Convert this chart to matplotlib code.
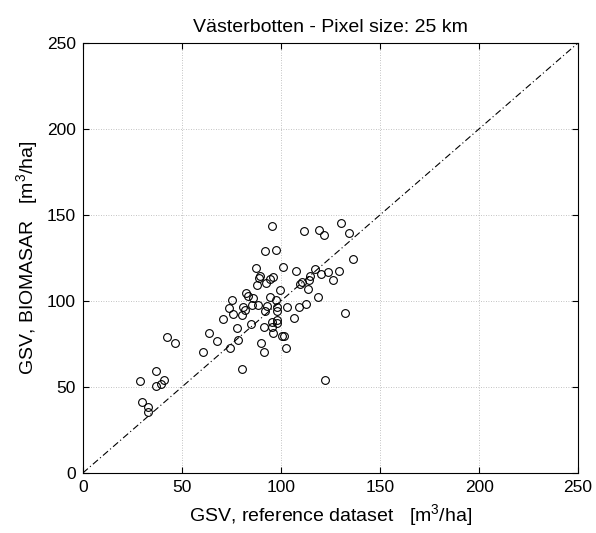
import matplotlib
matplotlib.use('Agg')
import matplotlib.pyplot as plt
import numpy as np

plt.rcParams['font.family'] = ['Liberation Sans', 'DejaVu Sans']
plt.rcParams['mathtext.fontset'] = 'custom'
plt.rcParams['mathtext.rm'] = 'Liberation Sans'
plt.rcParams['mathtext.it'] = 'Liberation Sans'

# GSV values (m3/ha)
gsv_reference = [28.8, 30.0, 33.0, 33.0, 36.7, 36.9, 39.7, 41.1, 42.3, 46.5,
                 60.8, 63.6, 67.8, 70.9, 73.6, 74.2, 75.1, 75.9, 77.6, 78.1,
                 80.1, 80.3, 81.0, 81.8, 82.5, 83.5, 84.8, 85.2, 86.0, 87.2,
                 87.7, 88.5, 89.0, 89.4, 89.7, 91.4, 91.4, 91.9, 91.9, 92.4,
                 93.1, 94.4, 94.4, 95.3, 95.3, 95.6, 95.8, 96.1, 97.5, 97.5,
                 97.8, 98.1, 98.1, 98.0, 99.5, 100.5, 101.7, 100.8, 102.4, 103.2,
                 106.7, 107.4, 109.2, 109.6, 110.5, 111.8, 112.6, 113.5, 114.3, 114.6,
                 117.2, 118.5, 119.3, 120.2, 121.7, 122.2, 123.9, 126.4, 129.4, 130.3,
                 132.3, 134.3, 136.5]
gsv_biomasar = [53.5, 41.4, 38.1, 35.2, 50.5, 59.3, 52.0, 53.9, 79.0, 75.8,
                70.4, 81.6, 76.6, 89.7, 96.1, 72.9, 100.3, 92.6, 84.5, 77.5,
                91.6, 60.5, 96.5, 94.5, 104.8, 103.0, 86.4, 97.4, 101.9, 119.3,
                109.0, 97.4, 113.3, 114.3, 75.8, 84.9, 70.2, 94.1, 128.8, 110.4,
                96.9, 112.5, 102.3, 143.4, 87.8, 85.0, 113.9, 81.4, 129.4, 100.8,
                94.1, 96.5, 88.7, 87.0, 106.1, 79.5, 79.5, 120.0, 72.9, 96.5,
                90.3, 117.4, 96.5, 110.0, 111.0, 140.4, 98.4, 107.1, 111.9, 114.3,
                118.7, 102.3, 141.5, 115.8, 138.6, 53.9, 116.8, 111.9, 117.2, 145.2,
                93.2, 139.4, 124.5]

axis_limits = [0, 250]
tick_values = [0, 50, 100, 150, 200, 250]

fig = plt.figure(figsize=(5.96, 5.33), dpi=100)
ax = fig.add_axes([0.139, 0.1126, 0.831, 0.807])

# 1:1 line
ax.plot(axis_limits, axis_limits, color='black', lw=0.8,
        linestyle=(0, (6, 2.5, 1, 2.5)))
ax.plot(gsv_reference, gsv_biomasar, 'o', mfc='none', mec='black',
        ms=5.6, mew=0.8)

ax.set_xlim(axis_limits)
ax.set_ylim(axis_limits)
ax.set_xticks(tick_values)
ax.set_yticks(tick_values)
ax.tick_params(direction='in', top=True, right=True, labelsize=12.5,
               length=4, width=0.8, pad=5)
ax.grid(True, linestyle=(0, (1, 2)), color='#b0b0b0', lw=0.6)
for s in ax.spines.values():
    s.set_linewidth(0.8)

ax.set_title('Västerbotten - Pixel size: 25 km', fontsize=14, pad=8)
ax.set_xlabel(r'GSV, reference dataset   [m$^3$/ha]', fontsize=14, labelpad=5)
ax.set_ylabel(r'GSV, BIOMASAR   [m$^3$/ha]', fontsize=14, labelpad=5)

fig.savefig('out.png', dpi=100)
